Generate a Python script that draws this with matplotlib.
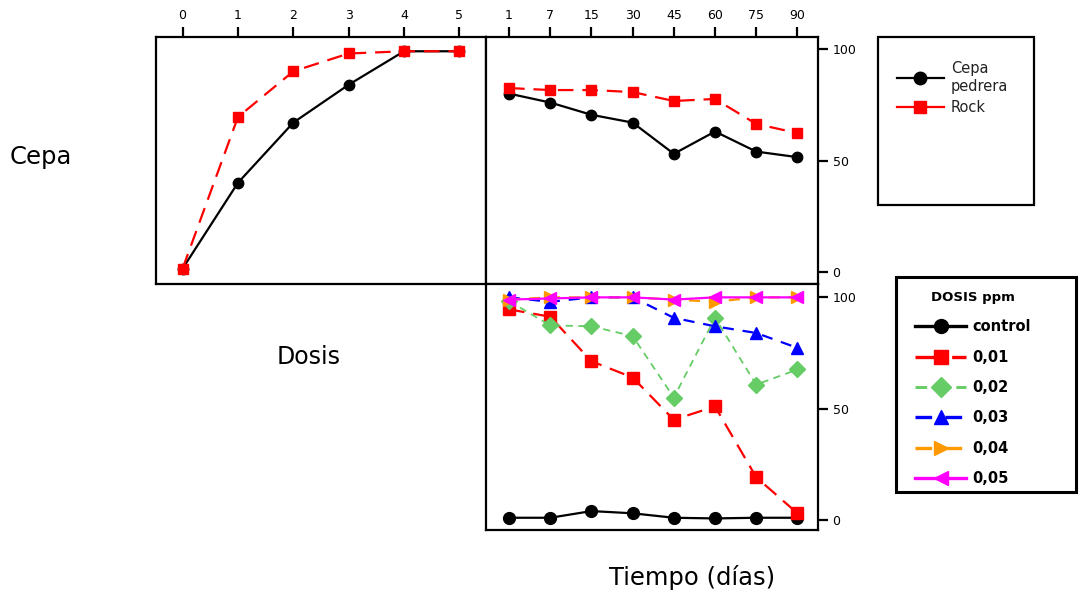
import numpy as np
from matplotlib import pyplot as plt
from matplotlib.lines import Line2D
from matplotlib.patches import Rectangle

# dosis (top-left)
dosis = [0, 1, 2, 3, 4, 5]
dosis_pedrera = [1.5, 40, 67, 84, 99, 99]
dosis_rock = [1.5, 69.5, 90, 98, 99, 99]

# tiempo (days, categorical)
dias = ["1", "7", "15", "30", "45", "60", "75", "90"]
cepa_pedrera = [80, 76, 70.5, 67, 53, 63, 54, 51.5]
cepa_rock = [82.5, 81.6, 81.6, 80.7, 76.7, 77.6, 66.4, 62.3]

# dose series over time
dosis_labels = ["control", "0,01", "0,02", "0,03", "0,04", "0,05"]
d_control = [1, 1, 4, 3, 1, 0.7, 1, 1]
d_001 = [94.6, 91.3, 71.3, 64, 45, 51, 19.2, 3]
d_002 = [98.3, 87.4, 87, 82.6, 55, 90.8, 60.8, 67.6]
d_003 = [100, 98, 100, 100, 90.8, 87, 84, 77.3]
d_004 = [99, 100, 100, 100, 99, 98, 100, 100]
d_005 = [99, 99.5, 100, 100, 99, 100, 100, 100]

W, H = 1080, 592


def box(x0, y0, x1, y1):
    # pixel box (top-left origin) -> figure fraction rect
    return [x0 / W, (H - y1) / H, (x1 - x0) / W, (y1 - y0) / H]


fig = plt.figure(figsize=(W / 100, H / 100), dpi=100)
fig.patch.set_facecolor("white")

ax1 = fig.add_axes(box(156, 37, 486, 284))
ax2 = fig.add_axes(box(486, 37, 818, 284))
ax3 = fig.add_axes(box(486, 284, 818, 530))

for ax in (ax1, ax2, ax3):
    for s in ax.spines.values():
        s.set_linewidth(1.6)
    ax.tick_params(width=1.6, length=7, labelsize=9, colors="black")

red_dash = (0, (7, 4))

# top-left: dose response
ax1.plot(dosis, dosis_pedrera, color="black", lw=1.6, marker="o", ms=7.5)
ax1.plot(dosis, dosis_rock, color="red", lw=1.6, ls=red_dash, marker="s", ms=7.5)
ax1.set_xlim(-0.48, 5.48)
ax1.set_ylim(-5.4, 105.4)
ax1.set_xticks(dosis)
ax1.xaxis.tick_top()
ax1.set_yticks([])

# top-right: strains over time
xs = np.arange(len(dias))
ax2.plot(xs, cepa_pedrera, color="black", lw=1.6, marker="o", ms=7.5)
ax2.plot(xs, cepa_rock, color="red", lw=1.6, ls=red_dash, marker="s", ms=7.5)
ax2.set_xlim(-0.56, 7.5)
ax2.set_ylim(-5.4, 105.4)
ax2.set_xticks(xs, dias)
ax2.xaxis.tick_top()
ax2.yaxis.tick_right()
ax2.set_yticks([0, 50, 100])

# bottom-right: doses over time
styles = [
    (d_control, "black", "-", "o", 1.6),
    (d_001, "red", red_dash, "s", 1.6),
    (d_002, "#66cc66", (0, (4, 3)), "D", 1.3),
    (d_003, "blue", (0, (5, 4)), "^", 1.6),
    (d_004, "#ff9900", (0, (5, 4)), ">", 1.6),
    (d_005, "magenta", "-", "<", 1.6),
]
handles = []
for (ys, c, ls, m, lw), lab in zip(styles, dosis_labels):
    ax3.plot(xs, ys, color=c, ls=ls, lw=lw, marker=m, ms=8.5)
    handles.append(Line2D([], [], color=c, ls=ls, lw=lw + 0.8, marker=m, ms=10, label=lab))
ax3.set_xlim(-0.56, 7.5)
ax3.set_ylim(-4.5, 106)
ax3.set_xticks([])
ax3.yaxis.tick_right()
ax3.set_yticks([0, 50, 100])

# legends
fig.patches.append(Rectangle((878 / W, (H - 205) / H), 156 / W, 168 / H,
                             transform=fig.transFigure, fill=False, lw=1.6, ec="black"))
h1 = [Line2D([], [], color="black", lw=1.6, marker="o", ms=9, label="Cepa\npedrera"),
      Line2D([], [], color="red", lw=1.6, marker="s", ms=9, label="Rock")]
fig.legend(handles=h1, loc="upper left", bbox_to_anchor=(884 / W, (H - 48) / H),
           frameon=False, fontsize=10.5, handlelength=3.2, handletextpad=0.5,
           labelspacing=0.45, labelcolor="#222222")

fig.patches.append(Rectangle((896 / W, (H - 492) / H), 180 / W, 215 / H,
                             transform=fig.transFigure, fill=False, lw=2.2, ec="black"))
fig.legend(handles=handles, loc="upper left", bbox_to_anchor=(902 / W, (H - 278) / H),
           frameon=False, title="DOSIS ppm", title_fontproperties={"weight": "bold", "size": 9.5},
           prop={"weight": "bold", "size": 10.5}, handlelength=3.5, handletextpad=0.4,
           labelspacing=1.05)

fig.text(10 / W, 1 - 157 / H, "Cepa", fontsize=17.5, va="center", ha="left")
fig.text(277 / W, 1 - 357 / H, "Dosis", fontsize=17, va="center", ha="left")
fig.text(692 / W, 1 - 578 / H, "Tiempo (días)", fontsize=17.5, va="center", ha="center")

fig.savefig("out.png", dpi=100, facecolor="white")
